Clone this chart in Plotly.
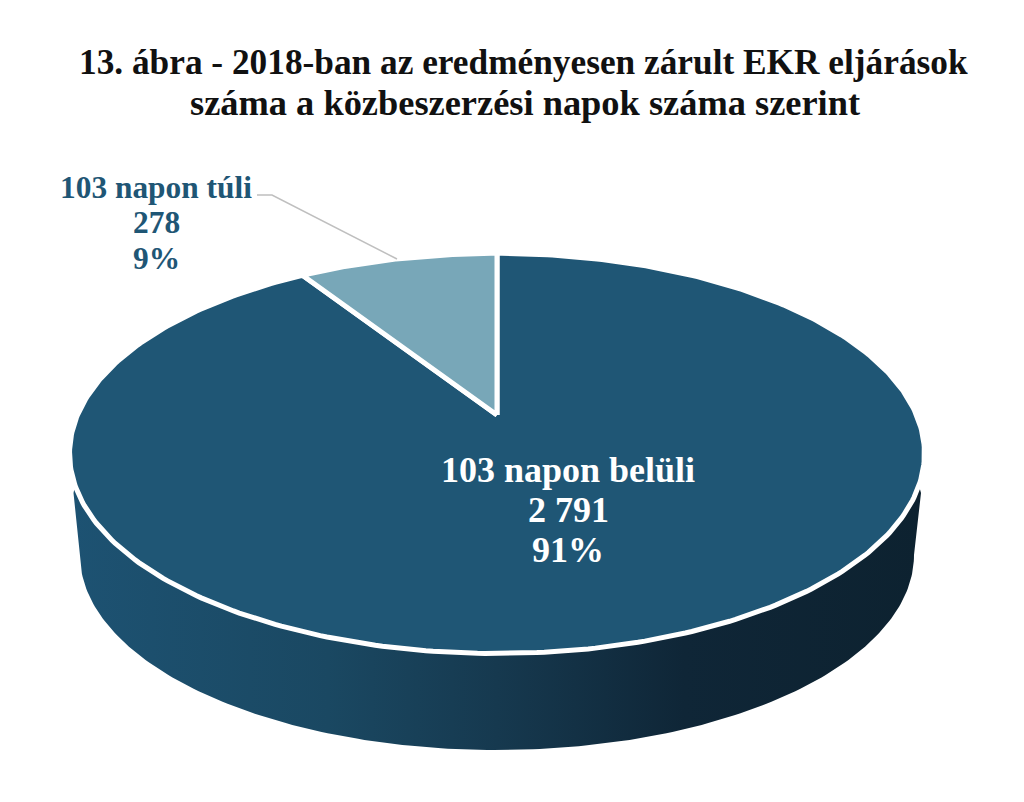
import numpy as np
import plotly.graph_objects as go

# --- data ---
categories = ["103 napon belüli", "103 napon túli"]
values = [2791, 278]
value_labels = ["2 791", "278"]
title_lines = ["13. ábra - 2018-ban az eredményesen zárult EKR eljárások",
               "száma a közbeszerzési napok száma szerint"]

# --- colours ---
slice_colors = ["#1f5675", "#78a7b8"]
label_colors = ["#ffffff", "#1f5675"]
side_scale = [[0, "#1d5272"], [0.3, "#1a4862"], [0.5, "#16394f"], [0.72, "#0f2637"], [1, "#0d2230"]]

# --- perspective projection of the disc onto the page (pixel-valued axes) ---
CX, CY, A, B, K = 497.0, 415.0, 419.5, 192.7, 0.192
DEPTH_CY, DEPTH_RX, DEPTH_RY = 555.0, 417.0, 195.0
PAGE_MARGIN = 8  # default body margin of the page


def rim(t):
    d = 1 + K * np.cos(t)
    return CX + A * np.sin(t) / d, CY - B * np.cos(t) / d


total = sum(values)
shares = [v / total for v in values]
pcts = [f"{round(s * 100)}%" for s in shares]

fig = go.Figure()

# side wall
u = np.linspace(np.pi, 0, 200)
low_x = CX + DEPTH_RX * np.cos(u)
low_y = DEPTH_CY + DEPTH_RY * np.sin(u)
t_front = np.linspace(np.radians(110), np.radians(250), 200)
top_x, top_y = rim(t_front)
wall_x = [73.5] + list(low_x) + [921] + list(top_x) + [73.5]
wall_y = [493] + list(low_y) + [493] + list(top_y) + [493]
fig.add_trace(go.Scatter(
    x=wall_x, y=wall_y, mode="lines", line=dict(width=0), fill="toself",
    fillgradient=dict(type="horizontal", colorscale=side_scale),
    hoverinfo="skip", showlegend=False))

# top slices: clockwise from 12 o'clock
start = 0.0
for name, share, col in zip(categories, shares, slice_colors):
    t = np.linspace(start, start + share * 2 * np.pi, 400)
    x, y = rim(t)
    fig.add_trace(go.Scatter(
        x=[CX] + list(x) + [CX], y=[CY] + list(y) + [CY],
        mode="lines", line=dict(color="#ffffff", width=5), fill="toself",
        fillcolor=col, name=name, hoverinfo="skip", showlegend=False))
    start += share * 2 * np.pi

# leader line
fig.add_trace(go.Scatter(
    x=[257, 272, 397], y=[195, 195, 259], mode="lines",
    line=dict(color="#bfbfbf", width=1.5), hoverinfo="skip", showlegend=False))

FONT = "Liberation Serif"
ann = [
    (523, 62, title_lines[0], 35.3, "#111111"),
    (525, 103, title_lines[1], 36.4, "#111111"),
    (568, 470, categories[0], 36, label_colors[0]),
    (568, 510, value_labels[0], 36, label_colors[0]),
    (568, 550, pcts[0], 36, label_colors[0]),
    (156, 187, categories[1], 31.4, label_colors[1]),
    (156, 222, value_labels[1], 31.4, label_colors[1]),
    (156, 258, pcts[1], 31.4, label_colors[1]),
]
for x, y, text, size, color in ann:
    fig.add_annotation(x=x, y=y, text=f"<b>{text}</b>", showarrow=False, xref="x", yref="y",
                       xanchor="center", yanchor="middle", align="center",
                       font=dict(family=FONT, size=size, color=color))

fig.update_layout(
    width=1024 - 2 * PAGE_MARGIN, height=802 - 2 * PAGE_MARGIN, margin=dict(l=0, r=0, t=0, b=0),
    paper_bgcolor="#ffffff", plot_bgcolor="#ffffff", showlegend=False,
    xaxis=dict(range=[PAGE_MARGIN, 1024 - PAGE_MARGIN], visible=False, fixedrange=True),
    yaxis=dict(range=[802 - PAGE_MARGIN, PAGE_MARGIN], visible=False, fixedrange=True),
)
fig.write_html("out.html", config={"displayModeBar": False})
